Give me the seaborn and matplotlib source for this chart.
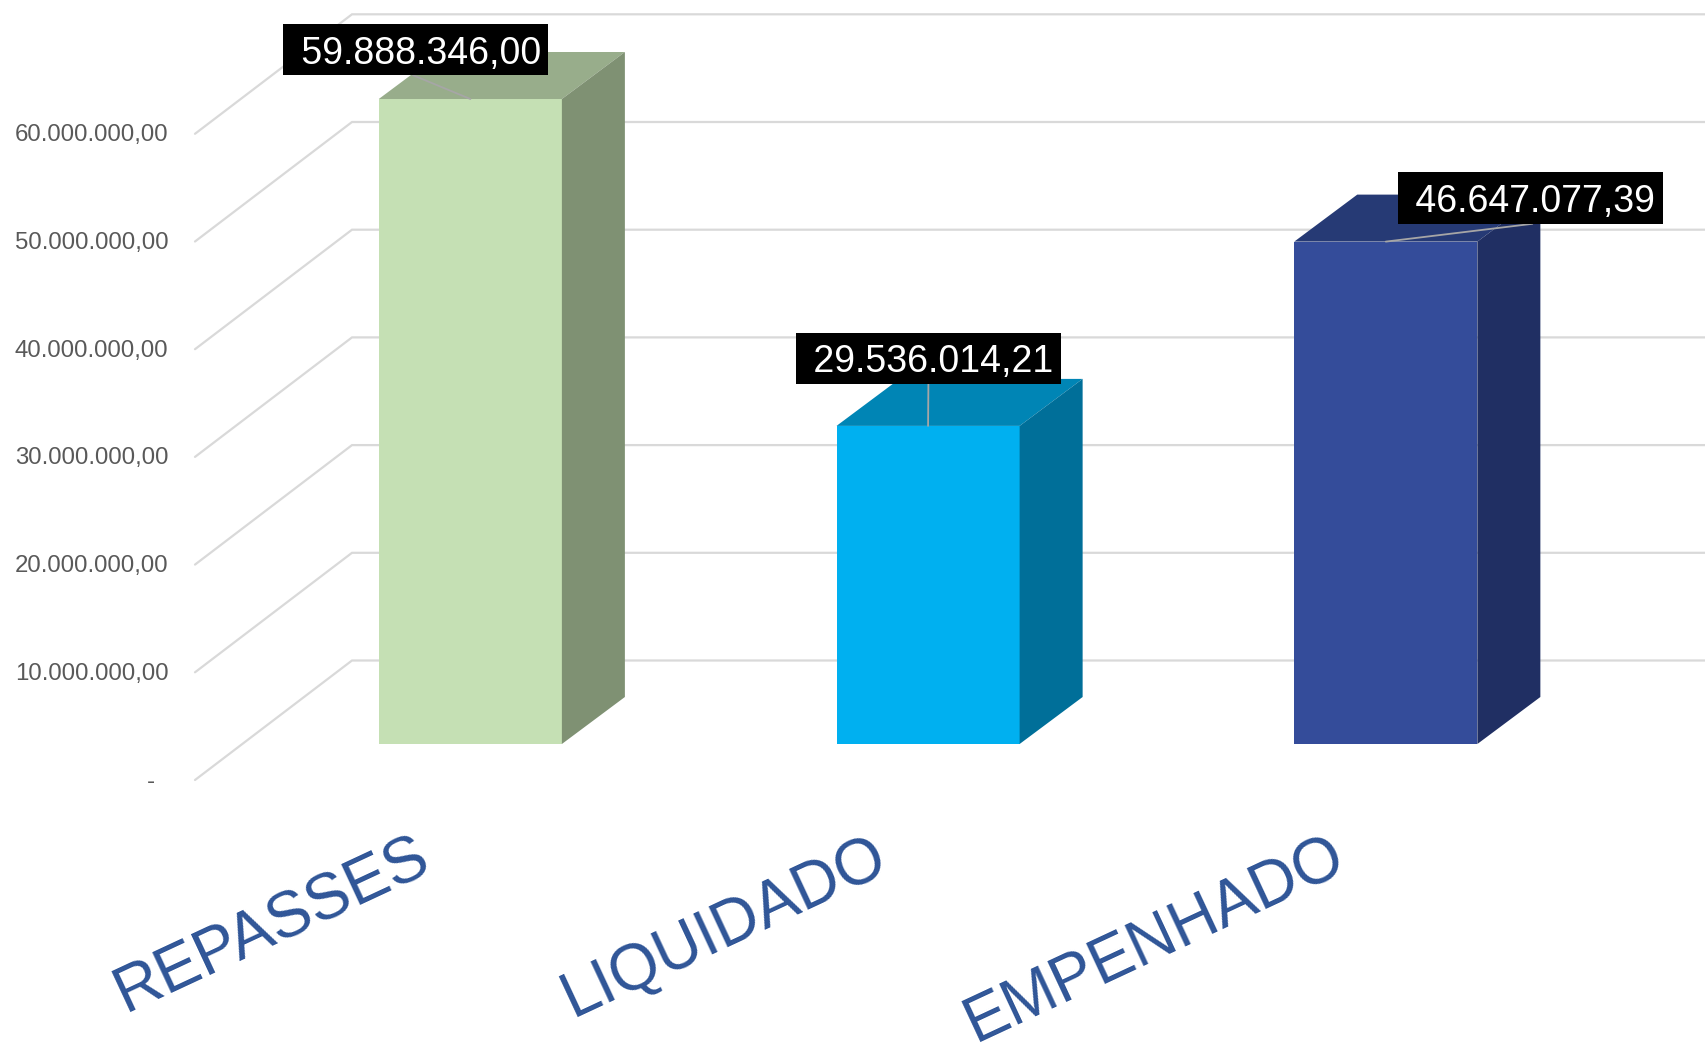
"""Repasses x liquidado x empenhado, barras com aparencia 3D."""

import matplotlib
matplotlib.use("Agg")
import matplotlib.pyplot as plt
import matplotlib.transforms as mtransforms
from matplotlib.patches import Polygon
from matplotlib.path import Path
import pandas as pd
import seaborn as sns

categorias = ["REPASSES", "LIQUIDADO", "EMPENHADO"]
valores = [59888346.00, 29536014.21, 46647077.39]
rotulos = [" 59.888.346,00", " 29.536.014,21", " 46.647.077,39"]
cores_frente = ["#C5E0B4", "#00B0F0", "#344C9A"]
cores_topo = ["#98AD8B", "#0085B5", "#263A75"]
cores_lado = ["#7F9173", "#006F99", "#202F63"]
ticks = [0, 10e6, 20e6, 30e6, 40e6, 50e6, 60e6]
tick_labels = ["-  ", "10.000.000,00", "20.000.000,00", "30.000.000,00",
               "40.000.000,00", "50.000.000,00", "60.000.000,00"]

W, H, DPI = 1706, 1043, 100
PX_POR_VALOR = 10.77 / 1e6
GRID = "#D9D9D9"
LEADER = "#A6A6A6"


def caixa_rotulo(x0, y0, w, h, mutation_size):
    # caixa com folga maior nas laterais e em cima, como no rotulo do Excel
    pad_x, pad_cima, pad_baixo = 7.5, 11.7, 3.7
    x0, x1 = x0 - pad_x, x0 + w + pad_x
    y0, y1 = y0 - pad_baixo, y0 + h + pad_cima
    return Path([(x0, y0), (x1, y0), (x1, y1), (x0, y1), (x0, y0)], closed=True)


sns.set_theme(style="white")
plt.rcParams["font.family"] = ["Liberation Sans", "DejaVu Sans"]

fig = plt.figure(figsize=(W / DPI, H / DPI), dpi=DPI)

# paredes: eixo do fundo com a grade e a escala de valores
x_parede, y_parede = 195, 780
ax_w = fig.add_axes([x_parede / W, (H - y_parede) / H, (W - x_parede) / W, y_parede / H])
ax_w.set_xlim(0, W - x_parede)
ax_w.set_ylim(0, y_parede / PX_POR_VALOR)
recuo_x, recuo_y = 157, 119.5 / PX_POR_VALOR
for v in ticks:
    ax_w.plot([0, recuo_x, W - x_parede], [v, v + recuo_y, v + recuo_y],
              color=GRID, lw=1.6, solid_joinstyle="miter", clip_on=False)
ax_w.set_yticks(ticks, tick_labels, fontsize=17.3, color="#595959")
ax_w.tick_params(axis="y", length=0, pad=19)
ax_w.set_xticks([])
sns.despine(ax=ax_w, left=True, bottom=True)
ax_w.patch.set_visible(False)
sobe = mtransforms.ScaledTranslation(0, 1 / DPI, fig.dpi_scale_trans)
for lab in ax_w.get_yticklabels():
    lab.set_transform(lab.get_transform() + sobe)

# barras: plano da frente
y_base = 744
ax = fig.add_axes([0, (H - y_base) / H, 1, y_base / H], zorder=2)
df = pd.DataFrame({"categoria": categorias, "valor": valores})
sns.barplot(data=df, x="categoria", y="valor", hue="categoria", order=categorias,
            hue_order=categorias, palette=cores_frente, saturation=1, width=0.4,
            edgecolor="none", linewidth=0, legend=False, ax=ax)
ax.set_xlim(-1.0275, 2.6995)
ax.set_ylim(0, y_base / PX_POR_VALOR)
ax.set_xlabel("")
ax.set_ylabel("")
ax.set_yticks([])
ax.patch.set_visible(False)
sns.despine(ax=ax, left=True, bottom=True)

# faces de cima e do lado, a partir de cada barra
dx, dy = 63 / 457.7, 47 / PX_POR_VALOR
for bar, topo, lado in zip(ax.patches, cores_topo, cores_lado):
    x0, x1, h = bar.get_x(), bar.get_x() + bar.get_width(), bar.get_height()
    ax.add_patch(Polygon([(x0, h), (x1, h), (x1 + dx, h + dy), (x0 + dx, h + dy)],
                         closed=True, facecolor=topo, edgecolor="none", clip_on=False))
    ax.add_patch(Polygon([(x1, 0), (x1 + dx, dy), (x1 + dx, h + dy), (x1, h)],
                         closed=True, facecolor=lado, edgecolor="none", clip_on=False))

# categorias inclinadas
ax.tick_params(axis="x", length=0, pad=59)
ax.set_xticks(range(len(categorias)), categorias)
desloc = mtransforms.ScaledTranslation(-57 / DPI, 0, fig.dpi_scale_trans)
for lab in ax.get_xticklabels():
    lab.set(rotation=25, ha="right", va="top", rotation_mode="anchor",
            fontsize=46, color="#2F5597")
    lab.set_transform(lab.get_transform() + desloc)

# rotulos de dados
offsets_px = [(-54.5, 45.5), (0.5, 63.5), (144.5, 39.5)]
relpos = [(0.28, 0.5), (0.5, 0.5), (0.63, 0.0)]
for i, (bar, txt) in enumerate(zip(ax.patches, rotulos)):
    ax.annotate(txt, xy=(bar.get_x() + bar.get_width() / 2, bar.get_height()),
                xytext=(offsets_px[i][0] * 0.72, offsets_px[i][1] * 0.72),
                textcoords="offset points", ha="center", va="center",
                fontsize=27, color="white", zorder=5,
                bbox=dict(boxstyle=caixa_rotulo, facecolor="black", edgecolor="none"),
                arrowprops=dict(arrowstyle="-", color=LEADER, lw=1.3, shrinkA=0,
                                shrinkB=0, relpos=relpos[i]))

fig.savefig("out.png", dpi=DPI)
plt.close(fig)
